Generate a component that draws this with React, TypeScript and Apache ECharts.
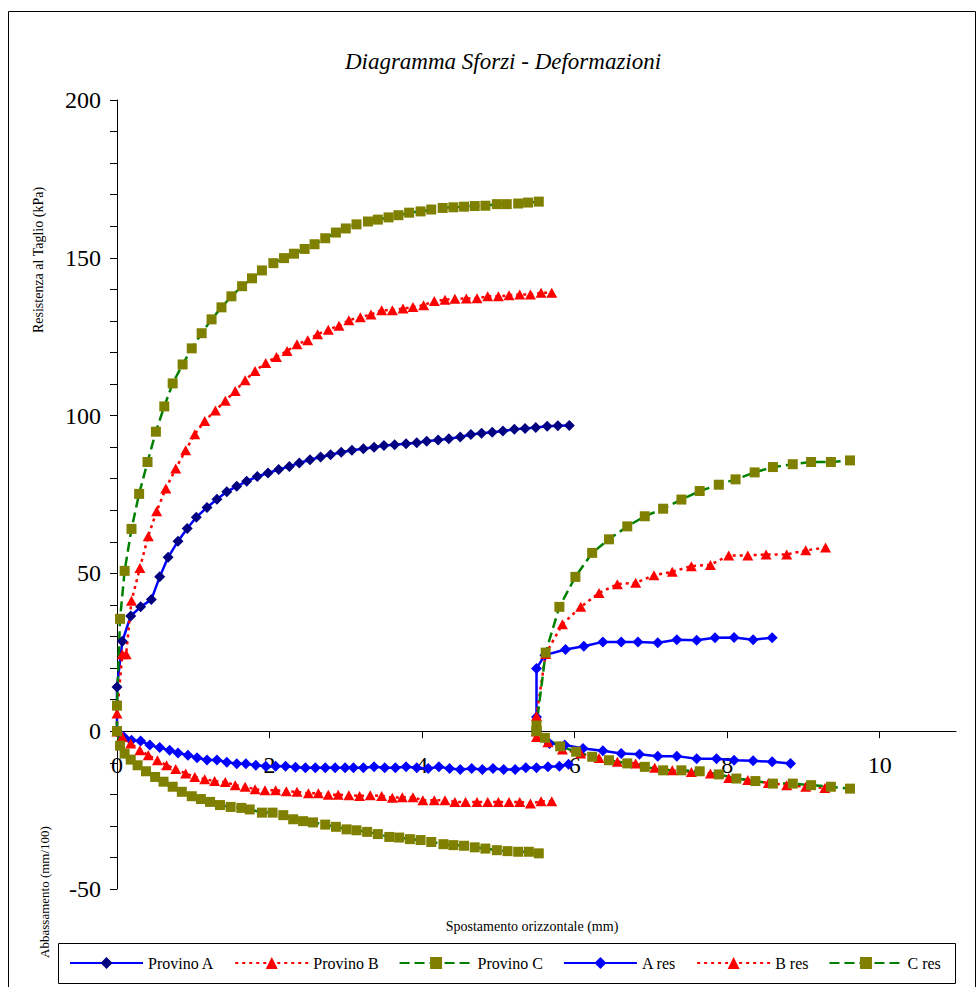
import React, { useEffect, useRef } from 'react';
import * as echarts from 'echarts';

// Curve di taglio (kPa) vs spostamento orizzontale (mm)
const provinoA: [number, number][] = [
  [0, 0], [0, 14.0], [0.07, 28.5], [0.18, 36.5], [0.31, 39.4], [0.45, 41.7], [0.56, 48.9], [0.67, 55.1],
  [0.80, 60.2], [0.92, 64.2], [1.04, 67.8], [1.18, 70.9], [1.31, 73.5], [1.44, 75.9], [1.57, 77.6],
  [1.70, 79.2], [1.84, 80.7], [1.98, 81.8], [2.12, 82.9], [2.26, 83.9], [2.39, 85.0], [2.53, 86.0],
  [2.67, 86.9], [2.80, 87.6], [2.94, 88.4], [3.08, 89.0], [3.23, 89.5], [3.37, 90.0], [3.50, 90.5],
  [3.64, 90.8], [3.79, 91.1], [3.93, 91.4], [4.06, 91.9], [4.21, 92.3], [4.35, 92.7], [4.50, 93.2],
  [4.64, 94.0], [4.78, 94.4], [4.92, 94.7], [5.06, 95.1], [5.21, 95.7], [5.35, 95.9], [5.49, 96.2],
  [5.64, 96.6], [5.78, 96.8], [5.93, 96.9],
];
const provinoB: [number, number][] = [
  [0, 0], [0, 5.6], [0.07, 24.4], [0.12, 24.4], [0.19, 41.3], [0.30, 51.7], [0.41, 61.8], [0.52, 69.7],
  [0.64, 76.9], [0.77, 83.2], [0.90, 89.0], [1.02, 94.1], [1.15, 98.3], [1.29, 101.6], [1.42, 104.7],
  [1.55, 107.8], [1.68, 111.2], [1.81, 114.1], [1.95, 116.7], [2.09, 118.6], [2.23, 120.5], [2.36, 122.6],
  [2.50, 123.9], [2.63, 125.8], [2.77, 127.2], [2.91, 128.5], [3.04, 130.2], [3.19, 131.2], [3.33, 132.0],
  [3.47, 133.4], [3.61, 133.4], [3.75, 133.9], [3.88, 134.4], [4.02, 135.0], [4.16, 136.3], [4.30, 136.7],
  [4.43, 137.0], [4.58, 137.1], [4.72, 137.2], [4.86, 137.8], [5.00, 137.8], [5.14, 138.1], [5.28, 138.4],
  [5.42, 138.4], [5.56, 138.9], [5.70, 138.9],
];
const provinoC: [number, number][] = [
  [0, 0], [0, 8.1], [0.04, 35.6], [0.10, 50.8], [0.19, 64.1], [0.29, 75.2], [0.40, 85.3], [0.51, 94.9],
  [0.62, 102.9], [0.73, 110.2], [0.86, 116.2], [0.98, 121.3], [1.11, 126.1], [1.24, 130.5], [1.37, 134.3],
  [1.50, 137.8], [1.64, 141.0], [1.77, 143.5], [1.90, 146.0], [2.05, 148.3], [2.19, 149.9], [2.32, 151.3],
  [2.46, 152.8], [2.59, 154.3], [2.73, 156.2], [2.87, 158.0], [3.00, 159.3], [3.14, 160.6], [3.29, 161.5],
  [3.42, 162.1], [3.56, 162.8], [3.69, 163.5], [3.83, 164.3], [3.98, 164.7], [4.12, 165.3], [4.27, 165.8],
  [4.41, 166.0], [4.55, 166.2], [4.69, 166.4], [4.83, 166.5], [4.98, 167.0], [5.11, 167.0], [5.26, 167.2],
  [5.39, 167.5], [5.53, 167.8],
];
const aRes: [number, number][] = [
  [5.5, 0], [5.5, 4.5], [5.5, 19.9], [5.61, 24.1], [5.88, 25.9], [6.12, 26.9], [6.37, 28.3], [6.61, 28.3],
  [6.83, 28.3], [7.09, 28.0], [7.34, 29.0], [7.60, 28.8], [7.84, 29.6], [8.09, 29.7], [8.34, 29.0], [8.59, 29.6],
];
const bRes: [number, number][] = [
  [5.5, 0], [5.5, 4.8], [5.62, 24.5], [5.84, 33.9], [6.08, 39.4], [6.32, 43.8], [6.56, 46.6], [6.80, 47.0],
  [7.04, 49.4], [7.28, 50.5], [7.53, 52.3], [7.78, 52.7], [8.02, 55.7], [8.27, 55.7], [8.51, 56.0],
  [8.78, 56.0], [9.03, 57.3], [9.29, 58.2],
];
const cRes: [number, number][] = [
  [5.5, 0], [5.5, 1.8], [5.62, 24.9], [5.80, 39.4], [6.01, 48.9], [6.23, 56.5], [6.45, 60.8], [6.69, 64.9],
  [6.92, 68.1], [7.16, 70.5], [7.40, 73.4], [7.64, 76.1], [7.89, 78.1], [8.11, 79.8], [8.36, 82.0],
  [8.60, 83.7], [8.86, 84.6], [9.10, 85.3], [9.36, 85.3], [9.61, 85.8],
];

// Abbassamenti (mm/100)
const abbA: [number, number][] = [
  [0, 0], [0.09, -1.8], [0.19, -2.9], [0.31, -3.1], [0.43, -4.4], [0.56, -5.2], [0.69, -6.0], [0.80, -6.9],
  [0.93, -7.6], [1.05, -8.4], [1.18, -9.1], [1.31, -9.1], [1.44, -9.8], [1.57, -10.3], [1.69, -10.3],
  [1.82, -10.8], [1.95, -11.1], [2.08, -11.1], [2.21, -11.1], [2.34, -11.4], [2.47, -11.6], [2.60, -11.6],
  [2.73, -11.6], [2.86, -11.6], [2.99, -11.6], [3.10, -11.6], [3.23, -11.6], [3.37, -11.3], [3.51, -11.6],
  [3.65, -11.6], [3.79, -11.3], [3.93, -11.6], [4.08, -11.8], [4.22, -11.3], [4.36, -11.8], [4.50, -12.1],
  [4.65, -11.8], [4.79, -12.1], [4.93, -11.8], [5.07, -12.1], [5.22, -12.1], [5.36, -11.6], [5.50, -11.6],
  [5.65, -11.3], [5.80, -11.1], [5.92, -10.5],
];
const abbB: [number, number][] = [
  [0, 0], [0.07, -1.8], [0.18, -3.9], [0.30, -6.0], [0.41, -7.6], [0.53, -9.2], [0.65, -10.8], [0.77, -12.0],
  [0.90, -13.4], [1.02, -14.5], [1.15, -15.2], [1.28, -15.8], [1.42, -16.1], [1.55, -17.1], [1.68, -17.6],
  [1.81, -18.4], [1.94, -18.7], [2.08, -18.7], [2.22, -19.0], [2.36, -19.2], [2.51, -19.7], [2.64, -19.7],
  [2.77, -20.1], [2.90, -20.1], [3.04, -20.3], [3.18, -20.5], [3.32, -20.3], [3.47, -20.5], [3.61, -21.1],
  [3.74, -20.9], [3.88, -20.9], [4.01, -21.9], [4.16, -21.9], [4.30, -21.9], [4.43, -22.4], [4.57, -22.4],
  [4.72, -22.4], [4.86, -22.4], [5.00, -22.4], [5.14, -22.4], [5.28, -22.4], [5.42, -22.9], [5.56, -22.2],
  [5.70, -22.2],
];
const abbC: [number, number][] = [
  [0, 0], [0.04, -4.6], [0.10, -7.1], [0.18, -9.0], [0.27, -10.8], [0.38, -12.7], [0.50, -14.5], [0.61, -16.0],
  [0.73, -17.6], [0.85, -19.2], [0.98, -20.6], [1.10, -21.5], [1.22, -22.4], [1.35, -23.4], [1.49, -24.0],
  [1.63, -24.3], [1.74, -24.8], [1.90, -25.8], [2.04, -25.8], [2.18, -26.6], [2.31, -27.9], [2.44, -28.5],
  [2.57, -28.9], [2.73, -29.6], [2.87, -30.3], [3.01, -31.1], [3.14, -31.4], [3.28, -31.9], [3.42, -32.6],
  [3.57, -33.5], [3.70, -33.7], [3.84, -34.2], [3.98, -34.5], [4.12, -35.1], [4.28, -35.8], [4.41, -36.1],
  [4.55, -36.3], [4.69, -36.8], [4.83, -37.2], [4.98, -37.7], [5.12, -38.0], [5.26, -38.2], [5.40, -38.2],
  [5.53, -38.7],
];
const abbARes: [number, number][] = [
  [5.5, 0], [5.67, -3.9], [5.87, -4.4], [6.11, -5.5], [6.37, -6.2], [6.61, -7.1], [6.85, -7.3], [7.09, -7.9],
  [7.34, -7.9], [7.60, -8.7], [7.86, -8.7], [8.09, -9.2], [8.34, -9.4], [8.59, -9.7], [8.83, -10.2],
];
const abbBRes: [number, number][] = [
  [5.5, 0], [5.5, -1.8], [5.65, -3.5], [5.84, -5.8], [6.08, -7.1], [6.32, -8.5], [6.56, -9.7], [6.80, -10.2],
  [7.05, -11.6], [7.28, -12.4], [7.53, -12.9], [7.78, -13.4], [8.02, -14.8], [8.27, -15.5], [8.54, -16.4],
  [8.78, -17.1], [9.03, -17.6], [9.28, -18.0],
];
const abbCRes: [number, number][] = [
  [5.5, 0], [5.61, -2.1], [5.81, -4.8], [6.02, -6.5], [6.23, -8.1], [6.45, -9.2], [6.69, -10.2], [6.92, -11.3],
  [7.16, -12.4], [7.40, -12.4], [7.64, -12.7], [7.89, -13.7], [8.12, -15.0], [8.37, -15.8], [8.60, -16.6],
  [8.86, -16.6], [9.10, -17.1], [9.36, -17.6], [9.61, -18.2],
];

const legendNames = ['Provino A', 'Provino B', 'Provino C', 'A res', 'B res', 'C res'];
const xTicks = [0, 2, 4, 6, 8, 10];

const FONT = "'Liberation Serif', 'Times New Roman', serif";

type Style = { line: string; marker: string; symbol: string; size: number[]; dash: any };
const STYLE: Record<string, Style> = {
  A: { line: '#0000FF', marker: '#000080', symbol: 'diamond', size: [11, 11], dash: 'solid' },
  Ares: { line: '#0000FF', marker: '#0000FF', symbol: 'diamond', size: [11, 11], dash: 'solid' },
  B: { line: '#FF0000', marker: '#FF0000', symbol: 'triangle', size: [11, 10], dash: [3, 4] },
  C: { line: '#008000', marker: '#808000', symbol: 'rect', size: [10, 10], dash: [10, 5] },
};

function mk(name: string, data: [number, number][], st: Style) {
  return {
    name,
    type: 'line',
    data,
    symbol: st.symbol,
    symbolSize: st.size,
    showSymbol: true,
    showAllSymbol: true,
    itemStyle: { color: st.marker },
    lineStyle: { color: st.line, width: 2.5, type: st.dash },
    emphasis: { disabled: true },
  };
}

export default function App() {
  const ref = useRef<HTMLDivElement>(null);
  useEffect(() => {
    document.body.style.margin = '0';
    const chart = echarts.init(ref.current!, null, { renderer: 'svg' });
    const gridTop = 100;
    const gridBottomPx = 889;
    const yMin = -50;
    const yMax = 200;
    const zeroOffset = -((0 - yMin) / (yMax - yMin)) * (gridBottomPx - gridTop);
    const option: any = {
      animation: false,
      backgroundColor: '#fff',
      grid: { left: 117, right: 20, top: gridTop, bottom: 987 - gridBottomPx, containLabel: false },
      xAxis: {
        type: 'value',
        min: 0,
        max: 11,
        position: 'bottom',
        offset: zeroOffset,
        axisLine: { show: true, onZero: false, lineStyle: { color: '#000', width: 1 } },
        axisTick: { show: true, length: 7, customValues: xTicks, lineStyle: { color: '#000' } },
        axisLabel: { customValues: xTicks, margin: 22, fontSize: 24, fontFamily: FONT, color: '#000' },
        splitLine: { show: false },
      },
      yAxis: {
        type: 'value',
        min: yMin,
        max: yMax,
        interval: 50,
        axisLine: { show: true, onZero: false, lineStyle: { color: '#000', width: 1 } },
        axisTick: { show: true, length: 7, lineStyle: { color: '#000' } },
        minorTick: { show: true, splitNumber: 5, length: 7, lineStyle: { color: '#000' } },
        axisLabel: { margin: 16, fontSize: 24, fontFamily: FONT, color: '#000' },
        splitLine: { show: false },
      },
      legend: {
        data: legendNames,
        left: 69,
        top: 955,
        padding: 0,
        itemGap: 20,
        itemWidth: 73,
        itemHeight: 15,
        selectedMode: false,
        textStyle: { fontFamily: FONT, fontSize: 16, color: '#000' },
      },
      graphic: [
        { type: 'rect', z: -1, shape: { x: 8.5, y: 11.5, width: 967, height: 1000 }, style: { fill: 'none', stroke: '#000', lineWidth: 1 } },
        { type: 'rect', z: -1, shape: { x: 58.5, y: 943.5, width: 897, height: 40 }, style: { fill: '#fff', stroke: '#000', lineWidth: 1 } },
        { type: 'text', x: 503, y: 61, style: { text: 'Diagramma Sforzi - Deformazioni', font: `italic 23px ${FONT}`, fill: '#000', textAlign: 'center', textVerticalAlign: 'middle' } },
        { type: 'text', x: 38, y: 260, rotation: Math.PI / 2, style: { text: 'Resistenza al Taglio (kPa)', font: `14px ${FONT}`, fill: '#000', textAlign: 'center', textVerticalAlign: 'middle' } },
        { type: 'text', x: 44, y: 892, rotation: Math.PI / 2, style: { text: 'Abbassamento (mm/100)', font: `13px ${FONT}`, fill: '#000', textAlign: 'center', textVerticalAlign: 'middle' } },
        { type: 'text', x: 532, y: 926, style: { text: 'Spostamento orizzontale (mm)', font: `14px ${FONT}`, fill: '#000', textAlign: 'center', textVerticalAlign: 'middle' } },
      ],
      series: [
        mk('Provino A', provinoA, STYLE.A),
        mk('Provino B', provinoB, STYLE.B),
        mk('Provino C', provinoC, STYLE.C),
        mk('A res', aRes, STYLE.Ares),
        mk('B res', bRes, STYLE.B),
        mk('C res', cRes, STYLE.C),
        mk('Abb. A', abbA, STYLE.Ares),
        mk('Abb. B', abbB, STYLE.B),
        mk('Abb. C', abbC, STYLE.C),
        mk('Abb. A res', abbARes, STYLE.Ares),
        mk('Abb. B res', abbBRes, STYLE.B),
        mk('Abb. C res', abbCRes, STYLE.C),
      ],
    };
    chart.setOption(option);
    return () => chart.dispose();
  }, []);
  return <div ref={ref} style={{ width: 976, height: 987 }} />;
}
